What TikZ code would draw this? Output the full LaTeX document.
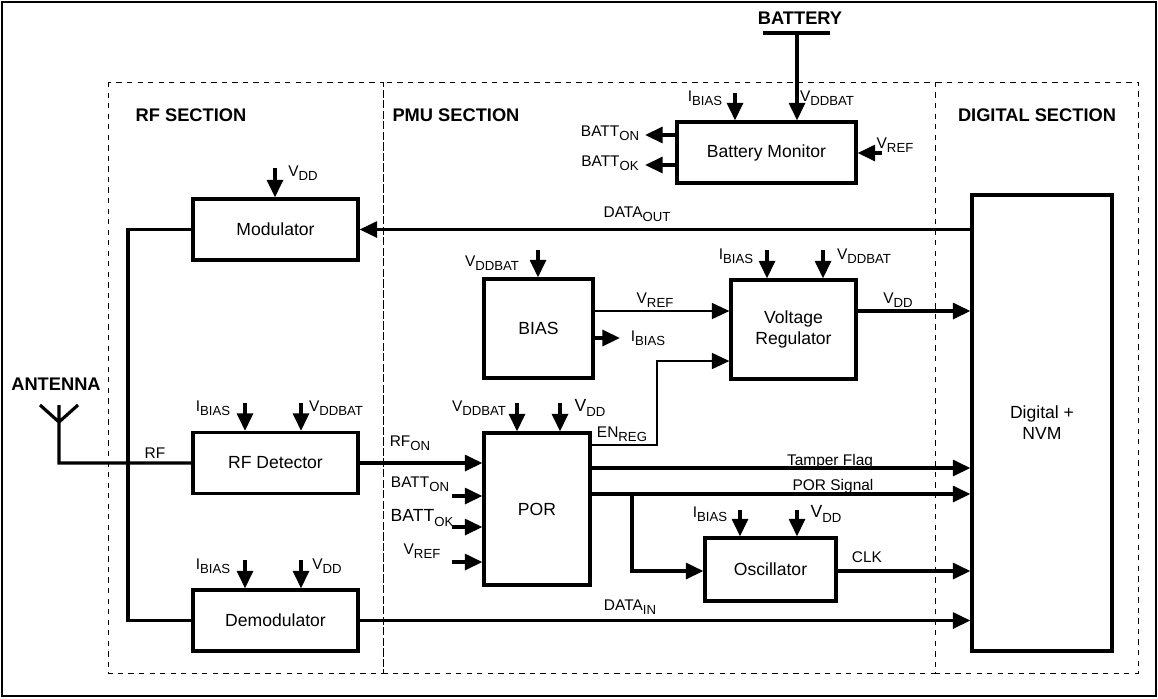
\documentclass[tikz,border=0pt]{standalone}
\usepackage{fontspec}
\setmainfont{Liberation Sans}
\usetikzlibrary{arrows.meta}
\newcommand\sbs[2]{#1\raisebox{-0.45ex}{\fontsize{7.5}{8}\selectfont #2}}

\begin{document}
\begin{tikzpicture}[x=0.02cm, y=-0.02cm,
  blk/.style={draw, line width=1.8pt, font=\normalsize, align=center, inner sep=0pt},
  sec/.style={draw, dashed, line width=0.4pt},
  sig/.style={line width=2pt, -{Triangle[length=10pt,width=9pt]}},
  thin/.style={line width=1.3pt, -{Triangle[length=10pt,width=9pt]}},
  lbl/.style={font=\fontsize{8.8}{10}\selectfont, inner sep=1pt},
  ttl/.style={font=\fontsize{10.4}{12}\selectfont\bfseries, inner sep=1pt}]
\useasboundingbox (0,0) rectangle (1158,698);
\draw[line width=1.6pt] (2,2) rectangle (1156,696);

% sections
\draw[sec] (108,82) rectangle (383,673);
\draw[sec] (383,82) rectangle (935,673);
\draw[sec] (935,82) rectangle (1138,673);
\node[ttl] at (191,115) {RF SECTION};
\node[ttl] at (456,115) {PMU SECTION};
\node[ttl] at (1037,115) {DIGITAL SECTION};

% blocks
\node[blk, minimum width=3.58cm, minimum height=1.22cm] (bm) at (766.5,152.5) {Battery Monitor};
\node[blk, minimum width=3.3cm, minimum height=1.22cm] (mod) at (275.5,229.5) {Modulator};
\node[blk, minimum width=3.3cm, minimum height=1.22cm] (rfd) at (275.5,463) {RF Detector};
\node[blk, minimum width=3.3cm, minimum height=1.22cm] (dem) at (275.5,620.5) {Demodulator};
\node[blk, minimum width=2.18cm, minimum height=1.98cm] (bias) at (538.5,328.5) {BIAS};
\node[blk, minimum width=2.5cm, minimum height=1.98cm] (vreg) at (793.5,329.5) {Voltage\\Regulator};
\node[blk, minimum width=2.12cm, minimum height=3.04cm] (por) at (537,509) {POR};
\node[blk, minimum width=2.62cm, minimum height=1.26cm] (osc) at (770.5,569.5) {Oscillator};
\node[blk, minimum width=2.8cm, minimum height=9.12cm] (dig) at (1042,423) {Digital +\\NVM};

% battery
\node[ttl] (bat) at (800,18) {BATTERY};
\coordinate (batL) at (763,33);
\coordinate (batR) at (830,33);
\coordinate (batM) at (797,33);
\draw[line width=2pt] (batL) -- (batR);
\draw[sig] (batM) -- (bm.north -| batM);

% vertical supply stubs
\foreach \n/\x/\y in {bm/735/93, mod/275/168, rfd/245/403, rfd/301/403, dem/245/560, dem/301/560,
  bias/538/250, vreg/767/250, vreg/823/250, por/517/403, por/560/403, osc/740/510, osc/797/510}
  \draw[sig] (\x,\y) -- (\n.north -| \x,\y);

\node[lbl] at (705,98) {\sbs{I}{BIAS}};
\node[lbl] at (827,98) {\sbs{V}{DDBAT}};
\node[lbl] at (303,173) {\sbs{V}{DD}};
\node[lbl] at (213,408) {\sbs{I}{BIAS}};
\node[lbl] at (336,408) {\sbs{V}{DDBAT}};
\node[lbl] at (213,566) {\sbs{I}{BIAS}};
\node[lbl] at (327,566) {\sbs{V}{DD}};
\node[lbl] at (492,263) {\sbs{V}{DDBAT}};
\node[lbl] at (736,256) {\sbs{I}{BIAS}};
\node[lbl] at (864,256) {\sbs{V}{DDBAT}};
\node[lbl] at (479,408) {\sbs{V}{DDBAT}};
\node[lbl, font=\normalsize] at (590,408) {\sbs{V}{DD}};
\node[lbl] at (710,514) {\sbs{I}{BIAS}};
\node[lbl, font=\normalsize] at (826,514) {\sbs{V}{DD}};

% battery monitor side signals
\coordinate (bmref) at (882,153);
\draw[sig] (bmref) -- (bm.east |- bmref);
\node[lbl] at (895,145) {\sbs{V}{REF}};
\coordinate (bon) at (645,135);
\coordinate (bok) at (645,165);
\draw[sig] (bm.west |- bon) -- (bon);
\draw[sig] (bm.west |- bok) -- (bok);
\node[lbl] at (610,133) {\sbs{BATT}{ON}};
\node[lbl] at (610,163) {\sbs{BATT}{OK}};

% RF front end
\node[ttl] (ant) at (56,384) {ANTENNA};
\coordinate (antL) at (40,405);
\coordinate (antR) at (78,405);
\coordinate (antT) at (59,405);
\coordinate (antB) at (59,422);
\coordinate (antF) at (59,463);
\coordinate (busT) at (128,229.5);
\coordinate (busB) at (128,620.5);
\draw[line width=1.8pt] (antL) -- (antB) -- (antR) (antT) -- (antF) -- (rfd.west |- antF);
\draw[line width=2pt] (mod.west) -- (busT) -- (busB) -- (dem.west);
\fill (128,463) circle (2.5);
\node[lbl] at (155,453) {RF};

% data paths
\draw[sig] (dig.west |- mod.east) -- (mod.east);
\node[lbl] at (637,214) {\sbs{DATA}{OUT}};
\draw[sig] (dem.east) -- (dig.west |- dem.east);
\node[lbl] at (630,607) {\sbs{DATA}{IN}};
\draw[sig] (rfd.east) -- (por.west |- rfd.east);
\node[lbl] at (410,443) {\sbs{RF}{ON}};

% POR inputs
\foreach \y in {496,527,562}
  \draw[sig] (452,\y) -- (por.west |- 452,\y);
\node[lbl] at (420,484) {\sbs{BATT}{ON}};
\node[lbl, font=\normalsize] at (422,518) {\sbs{BATT}{OK}};
\node[lbl] at (422,551) {\sbs{V}{REF}};

% PMU internal
\coordinate (vr) at (593,311);
\draw[thin] (vr) -- (vreg.west |- vr);
\node[lbl] at (655,300) {\sbs{V}{REF}};
\coordinate (ib) at (620,338);
\draw[sig] (bias.east |- ib) -- (ib);
\node[lbl] at (648,338) {\sbs{I}{BIAS}};
\draw[sig] (vreg.east |- vr) -- (dig.west |- vr);
\node[lbl] at (898,300) {\sbs{V}{DD}};
\coordinate (en) at (657,445);
\coordinate (en2) at (657,361);
\draw[thin] (por.east |- en) -- (en) -- (en2) -- (vreg.west |- en2);
\node[lbl] at (622,434) {\sbs{EN}{REG}};
\coordinate (tf) at (590,468);
\coordinate (ps) at (590,494);
\draw[sig] (por.east |- tf) -- (dig.west |- tf);
\node[lbl] at (830,461) {Tamper Flag};
\draw[sig] (por.east |- ps) -- (dig.west |- ps);
\node[lbl] at (833,486) {POR Signal};
\coordinate (br) at (632,494);
\draw[sig] (br) -- (632,571) -- (osc.west |- 632,571);
\draw[sig] (osc.east |- 632,571) -- (dig.west |- 632,571);
\node[lbl] at (867,557) {CLK};
\end{tikzpicture}
\end{document}
